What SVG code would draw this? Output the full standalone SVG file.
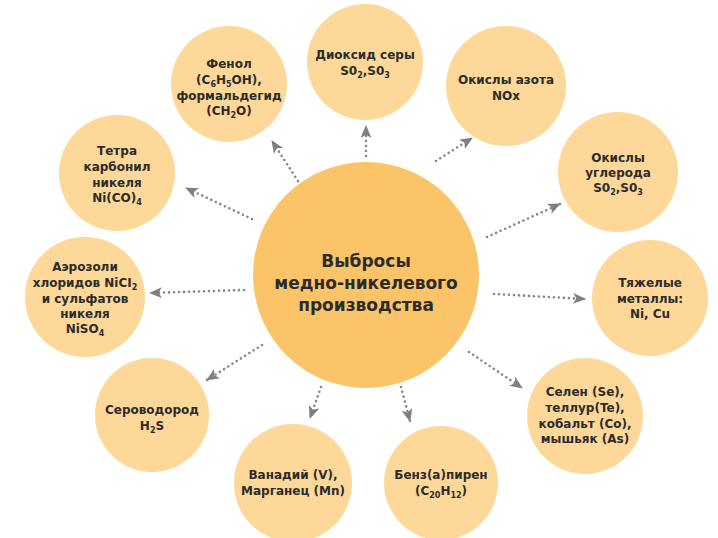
<svg xmlns="http://www.w3.org/2000/svg" width="718" height="538" viewBox="0 0 718 538">
<defs>
<style>
.n{fill:#FDD898}
.c{fill:#FBC468}
text{font-family:"DejaVu Sans","Liberation Sans",sans-serif;font-weight:bold;fill:#2b2b2b;text-anchor:middle;font-size:12px}
.big{font-size:17px}
.s{font-size:8px}
.con line{stroke:#858585;stroke-width:2.6;stroke-linecap:round;stroke-dasharray:0 5;fill:none;marker-end:url(#ah)}
</style>
<marker id="ah" markerUnits="userSpaceOnUse" viewBox="0 0 12 10" refX="11" refY="5" markerWidth="13" markerHeight="11" orient="auto">
<path d="M0,0 L12,5 L0,10 L3,5 Z" fill="#7f7f7f"/>
</marker>
</defs>
<rect width="718" height="538" fill="#ffffff"/>

<g class="con">
<line x1="298" y1="181" x2="272" y2="141"/>
<line x1="366" y1="156" x2="366" y2="126"/>
<line x1="436" y1="161" x2="472" y2="138"/>
<line x1="487" y1="237" x2="560" y2="204"/>
<line x1="252" y1="219" x2="186" y2="188"/>
<line x1="244" y1="290" x2="150" y2="293"/>
<line x1="494" y1="294" x2="585" y2="299"/>
<line x1="469" y1="352" x2="522" y2="388"/>
<line x1="262" y1="345" x2="207" y2="380"/>
<line x1="321" y1="387" x2="310" y2="418"/>
<line x1="401" y1="387" x2="410" y2="421"/>
</g>

<g id="center">
<circle class="c" cx="366" cy="275" r="113"/>
<text class="big" x="366" y="267">Выбросы</text>
<text class="big" x="366" y="289">медно-никелевого</text>
<text class="big" x="366" y="311">производства</text>
</g>

<g id="fenol">
<circle class="n" cx="229" cy="84" r="58"/>
<text x="229" y="68">Фенол</text>
<text x="229" y="84">(C<tspan class="s" dy="3">6</tspan><tspan dy="-3">H</tspan><tspan class="s" dy="3">5</tspan><tspan dy="-3">OH),</tspan></text>
<text x="229" y="99.5">формальдегид</text>
<text x="229" y="115">(CH<tspan class="s" dy="3">2</tspan><tspan dy="-3">O)</tspan></text>
</g>

<g id="dioxide">
<circle class="n" cx="365" cy="62" r="58"/>
<text x="365" y="59">Диоксид серы</text>
<text x="365" y="75">S0<tspan class="s" dy="3">2</tspan><tspan dy="-3">,S0</tspan><tspan class="s" dy="3">3</tspan></text>
</g>

<g id="nox">
<circle class="n" cx="506" cy="86" r="60"/>
<text x="506" y="84">Окислы азота</text>
<text x="506" y="100">NOx</text>
</g>

<g id="carbon">
<circle class="n" cx="618" cy="172" r="60"/>
<text x="618" y="162">Окислы</text>
<text x="618" y="177">углерода</text>
<text x="618" y="192">S0<tspan class="s" dy="3">2</tspan><tspan dy="-3">,S0</tspan><tspan class="s" dy="3">3</tspan></text>
</g>

<g id="tetra">
<circle class="n" cx="117" cy="173" r="58"/>
<text x="117" y="155">Тетра</text>
<text x="117" y="171">карбонил</text>
<text x="117" y="186.5">никеля</text>
<text x="117" y="202">Ni(CO)<tspan class="s" dy="3">4</tspan></text>
</g>

<g id="aerosol">
<circle class="n" cx="85" cy="297" r="60"/>
<text x="85" y="271">Аэрозоли</text>
<text x="85" y="287">хлоридов NiCI<tspan class="s" dy="3">2</tspan></text>
<text x="85" y="302.5">и сульфатов</text>
<text x="85" y="318">никеля</text>
<text x="85" y="333">NiSO<tspan class="s" dy="3">4</tspan></text>
</g>

<g id="metals">
<circle class="n" cx="650" cy="298" r="58"/>
<text x="650" y="287">Тяжелые</text>
<text x="650" y="302.5">металлы:</text>
<text x="650" y="318">Ni, Cu</text>
</g>

<g id="selen">
<circle class="n" cx="585" cy="416" r="58"/>
<text x="585" y="396">Селен (Se),</text>
<text x="585" y="412">теллур(Te),</text>
<text x="585" y="427.5">кобальт (Co),</text>
<text x="585" y="443">мышьяк (As)</text>
</g>

<g id="h2s">
<circle class="n" cx="152" cy="415" r="57"/>
<text x="152" y="414">Сероводород</text>
<text x="152" y="429.5">H<tspan class="s" dy="3">2</tspan><tspan dy="-3">S</tspan></text>
</g>

<g id="vanadium">
<circle class="n" cx="293" cy="483" r="59"/>
<text x="293" y="479">Ванадий (V),</text>
<text x="293" y="495">Марганец (Mn)</text>
</g>

<g id="benz">
<circle class="n" cx="441" cy="483" r="57"/>
<text x="441" y="479">Бенз(а)пирен</text>
<text x="441" y="495">(C<tspan class="s" dy="3">20</tspan><tspan dy="-3">H</tspan><tspan class="s" dy="3">12</tspan><tspan dy="-3">)</tspan></text>
</g>
</svg>
